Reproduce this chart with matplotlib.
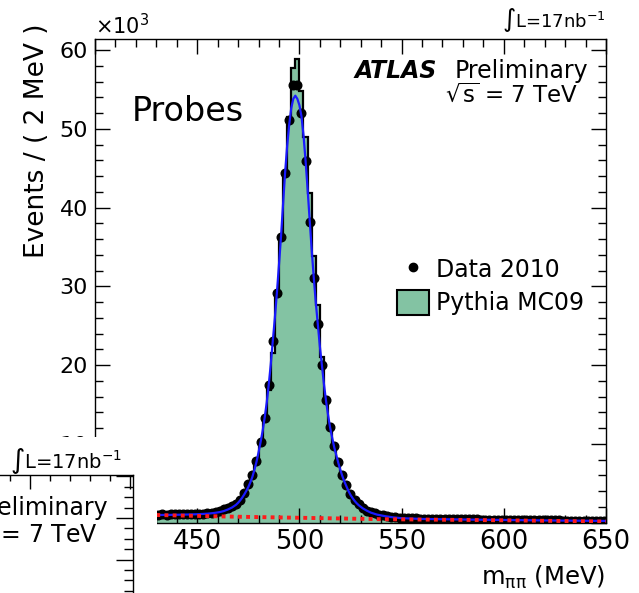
import matplotlib
matplotlib.use("Agg")
import matplotlib.pyplot as plt
import numpy as np
from matplotlib.patches import Rectangle, Patch
from matplotlib.lines import Line2D
from matplotlib.ticker import MultipleLocator, FixedLocator

plt.rcParams['font.family'] = ['DejaVu Sans']
plt.rcParams['mathtext.fontset'] = 'dejavusans'

W, H = 639, 593

# ---------------- data (values in units of 10^3 events) ----------------
BIN_LO, BIN_HI, BIN_W = 430, 650, 2

data_2010 = [
    1.00, 1.02, 1.00, 1.05, 1.03, 1.05, 1.08, 1.06, 1.10, 1.10, 1.14, 1.12, 1.18, 1.25, 1.35,
    1.50, 1.70, 1.90, 2.10, 2.40, 2.90, 3.70, 4.90, 6.00, 7.80,
    10.2, 13.3, 17.5, 23.1, 29.2, 36.3, 44.4, 51.1, 55.5, 55.5,
    52.0, 45.9, 38.2, 31.1, 25.2, 20.0, 15.5, 12.1, 9.7, 7.7,
    6.0, 4.7, 3.65, 2.8, 2.3, 1.9, 1.5, 1.3, 1.15, 1.0, 0.9, 0.8, 0.72, 0.66, 0.6,
    0.56, 0.55, 0.52, 0.53, 0.50, 0.49, 0.50, 0.47, 0.46, 0.47,
    0.45, 0.44, 0.45, 0.42, 0.43, 0.41, 0.40, 0.41, 0.39, 0.38,
    0.38, 0.37, 0.36, 0.37, 0.35, 0.34, 0.35, 0.33, 0.32, 0.33,
    0.31, 0.30, 0.31, 0.29, 0.28, 0.29, 0.27, 0.26, 0.27, 0.25,
    0.25, 0.24, 0.23, 0.24, 0.22, 0.21, 0.22, 0.20, 0.19, 0.18,
]

pythia_mc09 = [
    0.72, 0.70, 0.74, 0.72, 0.75, 0.76, 0.78, 0.77, 0.80, 0.83, 0.85, 0.88, 0.93, 1.00, 1.10,
    1.28, 1.48, 1.70, 1.98, 2.30, 2.80, 3.50, 4.60, 5.90, 7.60,
    10.1, 13.0, 16.8, 21.5, 28.7, 36.3, 44.4, 51.5, 57.7, 58.8,
    54.8, 48.9, 41.9, 33.8, 27.6, 21.0, 16.0, 12.5, 10.0, 7.9,
    6.1, 4.7, 3.6, 2.8, 2.2, 1.7, 1.35, 1.10, 0.90, 0.72, 0.58, 0.47, 0.38, 0.32, 0.27,
    0.24, 0.23, 0.22, 0.22, 0.21, 0.20, 0.20, 0.19, 0.19, 0.18,
    0.18, 0.17, 0.17, 0.17, 0.16, 0.16, 0.16, 0.15, 0.15, 0.15,
    0.14, 0.14, 0.14, 0.14, 0.13, 0.13, 0.13, 0.13, 0.12, 0.12,
    0.12, 0.12, 0.12, 0.11, 0.11, 0.11, 0.11, 0.11, 0.10, 0.10,
    0.10, 0.10, 0.10, 0.10, 0.09, 0.09, 0.09, 0.09, 0.09, 0.09,
]

fit_x = [430, 440, 450, 455, 458, 461, 463, 465, 467, 469, 470, 471, 472, 473, 474,
         475, 476, 477, 478, 479, 480, 481, 482, 483, 484, 485, 486, 487, 488, 489,
         490, 491, 492, 493, 494, 495, 496, 497, 498, 499, 500, 501, 502, 503, 504,
         505, 506, 507, 508, 509, 510, 511, 512, 513, 514, 515, 516, 517, 518, 519,
         520, 521, 522, 523, 524, 525, 526, 527, 528, 529, 531, 533, 535, 538, 542,
         546, 550, 560, 580, 600, 625, 650]
fit_y = [0.95, 0.98, 1.05, 1.12, 1.20, 1.32, 1.45, 1.65, 1.90, 2.25, 2.50, 2.80, 3.15, 3.55, 4.00,
         4.50, 5.10, 5.80, 6.70, 7.70, 8.90, 10.2, 11.6, 13.3, 15.2, 17.5, 20.1, 23.1, 26.0, 29.2,
         32.7, 36.3, 40.4, 44.4, 47.8, 50.5, 52.6, 53.8, 54.2, 53.8, 53.0, 51.6, 49.2, 46.0, 42.4,
         38.5, 34.7, 31.2, 28.0, 25.2, 22.4, 20.0, 17.6, 15.5, 13.7, 12.1, 10.8, 9.6, 8.6, 7.6,
         6.7, 5.9, 5.2, 4.6, 4.0, 3.5, 3.1, 2.75, 2.45, 2.2, 1.8, 1.5, 1.25, 1.0, 0.8,
         0.65, 0.55, 0.45, 0.38, 0.32, 0.25, 0.2]

bkg_x = [430, 466, 500, 540, 600, 650]
bkg_y = [0.95, 0.75, 0.60, 0.42, 0.28, 0.12]

x_ticks = [400, 450, 500, 550, 600, 650]
x_tick_labels = ['', '450', '500', '550', '600', '650']
y_ticks = [0, 10, 20, 30, 40, 50, 60]
y_tick_labels = ['', '10', '20', '30', '40', '50', '60']

GREEN = '#83c3a3'
BLUE = '#1a1aff'
RED = '#ff1a1a'

edges = np.arange(BIN_LO, BIN_HI + BIN_W, BIN_W)
centers = 0.5 * (edges[:-1] + edges[1:])


def fx(x):
    return x / W


def fy(y):
    return 1 - y / H


fig = plt.figure(figsize=(W / 100, H / 100), dpi=100)
ax = fig.add_axes([fx(95), fy(522.5), (606 - 95) / W, (522.5 - 39) / H])

ax.stairs(pythia_mc09, edges, fill=True, color=GREEN, zorder=1)
ax.stairs(pythia_mc09, edges, color='black', lw=1.6, zorder=2)
ax.plot(centers, data_2010, 'o', color='black', ms=6.2, zorder=3)
ax.plot(fit_x, fit_y, color=BLUE, lw=1.6, zorder=4)
ax.plot(bkg_x, bkg_y, color=RED, lw=2.8, ls=(0, (1.0, 1.1)), zorder=5)

ax.set_xlim(400, 650)
ax.set_ylim(0, 61.4)
ax.set_xticks(x_ticks, x_tick_labels)
ax.set_yticks(y_ticks, y_tick_labels)
ax.xaxis.set_minor_locator(MultipleLocator(10))
ax.yaxis.set_minor_locator(MultipleLocator(2))
ax.tick_params(which='both', direction='in', top=True, right=True, width=1)
ax.tick_params(which='major', length=10.5)
ax.tick_params(which='minor', length=5.5)
ax.tick_params(axis='x', which='major', labelsize=18.5, pad=5)
ax.tick_params(axis='y', which='major', labelsize=16, pad=5)
for s in ax.spines.values():
    s.set_linewidth(1.0)

# legend
handles = [Line2D([], [], marker='o', ls='none', color='black', ms=6),
           Patch(facecolor=GREEN, edgecolor='black', lw=1.5)]
fs_leg = 17
fs_px = fs_leg * 100 / 72
leg = ax.legend(handles, ['Data 2010', 'Pythia MC09'], fontsize=fs_leg, frameon=False,
                loc='upper left', bbox_to_anchor=(fx(397), fy(256.5)),
                bbox_transform=fig.transFigure, borderaxespad=0, borderpad=0,
                handlelength=32 / fs_px, handleheight=29 / fs_px,
                handletextpad=0.3, labelspacing=0.35)

# texts of main panel
fig.text(fx(95), fy(34), r'$\times10^{3}$', fontsize=15, ha='left', va='baseline')
fig.text(fx(606), fy(27), r'$\int$L=17nb$^{-1}$', fontsize=13, ha='right', va='baseline')
fig.text(fx(588), fy(78), 'Preliminary', fontsize=17, ha='right', va='baseline')
fig.text(fx(437), fy(78), 'ATLAS', fontsize=17, ha='right', va='baseline',
         fontweight='bold', fontstyle='italic')
fig.text(fx(578), fy(102), r'$\sqrt{\mathrm{s}}$ = 7 TeV', fontsize=16.5, ha='right', va='baseline')
fig.text(fx(132), fy(121), 'Probes', fontsize=24, ha='left', va='baseline')
fig.text(fx(37), fy(258), 'Events / ( 2 MeV )', fontsize=19, rotation=90,
         ha='center', va='bottom')
fig.text(fx(605), fy(585), r'm$_{\mathrm{\pi\pi}}$ (MeV)', fontsize=17.5, ha='right', va='baseline')

# overlapping piece of a neighbouring panel (bottom-left corner)
cover = Rectangle((0, 0), fx(157), (H - 437) / H, transform=fig.transFigure,
                  facecolor='white', edgecolor='none', zorder=2)
fig.add_artist(cover)

ov = fig.add_axes([fx(-117), fy(700), 250 / W, 225 / H], zorder=3)
ov.patch.set_alpha(0)
ov.set_xlim(-7.35, 5.15)
ov.set_ylim(-17.5, 4.135)
ov.xaxis.set_major_locator(FixedLocator([0, 5]))
ov.xaxis.set_minor_locator(MultipleLocator(1))
ov.yaxis.set_major_locator(MultipleLocator(4))
ov.yaxis.set_minor_locator(MultipleLocator(1))
ov.tick_params(which='both', direction='in', top=True, right=True, bottom=False, left=False,
               labelbottom=False, labelleft=False, width=1)
ov.xaxis.set_tick_params(which='major', length=10)
ov.xaxis.set_tick_params(which='minor', length=4.5)
ov.yaxis.set_tick_params(which='major', length=12)
ov.yaxis.set_tick_params(which='minor', length=6.5)
for s in ov.spines.values():
    s.set_linewidth(1.0)

fig.text(fx(122), fy(468), r'$\int$L=17nb$^{-1}$', fontsize=14, ha='right', va='baseline', zorder=4)
fig.text(fx(108), fy(515), 'Preliminary', fontsize=17, ha='right', va='baseline', zorder=4)
fig.text(fx(98), fy(543), r'$\sqrt{\mathrm{s}}$ = 7 TeV', fontsize=17, ha='right', va='baseline', zorder=4)

fig.savefig('out.png', dpi=100)
